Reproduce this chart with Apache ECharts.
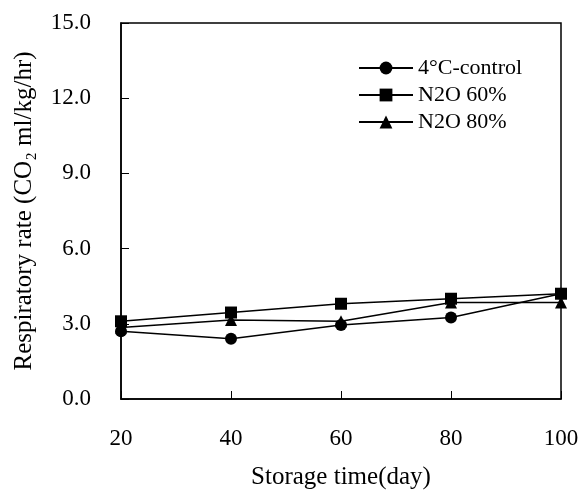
<!DOCTYPE html>
<html>
<head>
<meta charset="utf-8">
<script src="https://cdn.jsdelivr.net/npm/echarts@6/dist/echarts.min.js"></script>
<style>
  html, body { margin: 0; padding: 0; background: #fff; }
  #chart { width: 584px; height: 495px; }
</style>
</head>
<body>
<div id="chart"></div>
<script>
const days = [20, 40, 60, 80, 100]
const control = [2.7, 2.4, 2.95, 3.25, 4.2]
const n2o60 = [3.1, 3.45, 3.8, 4.0, 4.2]
const n2o80 = [2.85, 3.15, 3.1, 3.85, 3.85]

const font = 'Liberation Serif, Times New Roman, serif'
const black = '#000'

const chart = echarts.init(document.getElementById('chart'))

function line(name, values, symbol, size) {
  return {
    name,
    type: 'line',
    data: days.map((d, i) => [d, values[i]]),
    symbol,
    symbolSize: size,
    lineStyle: { width: 1.5, color: black },
    itemStyle: { color: black },
    emphasis: { disabled: true }
  }
}

chart.setOption({
  animation: false,
  textStyle: { fontFamily: font, color: black },
  grid: {
    left: 121, right: 23, top: 23, bottom: 96,
    show: true, borderColor: black, borderWidth: 1.5
  },
  legend: {
    left: 353,
    top: 52,
    orient: 'vertical',
    itemWidth: 54,
    itemHeight: 16,
    itemGap: 5,
    textStyle: { fontFamily: font, fontSize: 22, color: black },
    data: ['4°C-control', 'N2O 60%', 'N2O 80%']
  },
  xAxis: {
    type: 'value',
    min: 20,
    max: 100,
    interval: 20,
    name: 'Storage time(day)',
    nameLocation: 'middle',
    nameGap: 66,
    nameTextStyle: { fontFamily: font, fontSize: 25, color: black },
    axisLine: { lineStyle: { color: black, width: 1.5 } },
    axisTick: { inside: true, length: 8, lineStyle: { color: black, width: 1 } },
    axisLabel: { fontFamily: font, fontSize: 23, color: black, margin: 28 },
    splitLine: { show: false }
  },
  yAxis: {
    type: 'value',
    min: 0,
    max: 15,
    interval: 3,
    name: 'Respiratory rate (CO₂ ml/kg/hr)',
    nameLocation: 'middle',
    nameGap: 84,
    nameTextStyle: { fontFamily: font, fontSize: 25, color: black },
    axisLine: { show: true, lineStyle: { color: black, width: 1.5 } },
    axisTick: { show: true, inside: true, length: 8, lineStyle: { color: black, width: 1 } },
    axisLabel: { fontFamily: font, fontSize: 23, color: black, margin: 30, formatter: v => v.toFixed(1) },
    splitLine: { show: false }
  },
  series: [
    line('4°C-control', control, 'circle', 12),
    line('N2O 60%', n2o60, 'rect', 12),
    line('N2O 80%', n2o80, 'triangle', 12)
  ]
})
</script>
</body>
</html>
